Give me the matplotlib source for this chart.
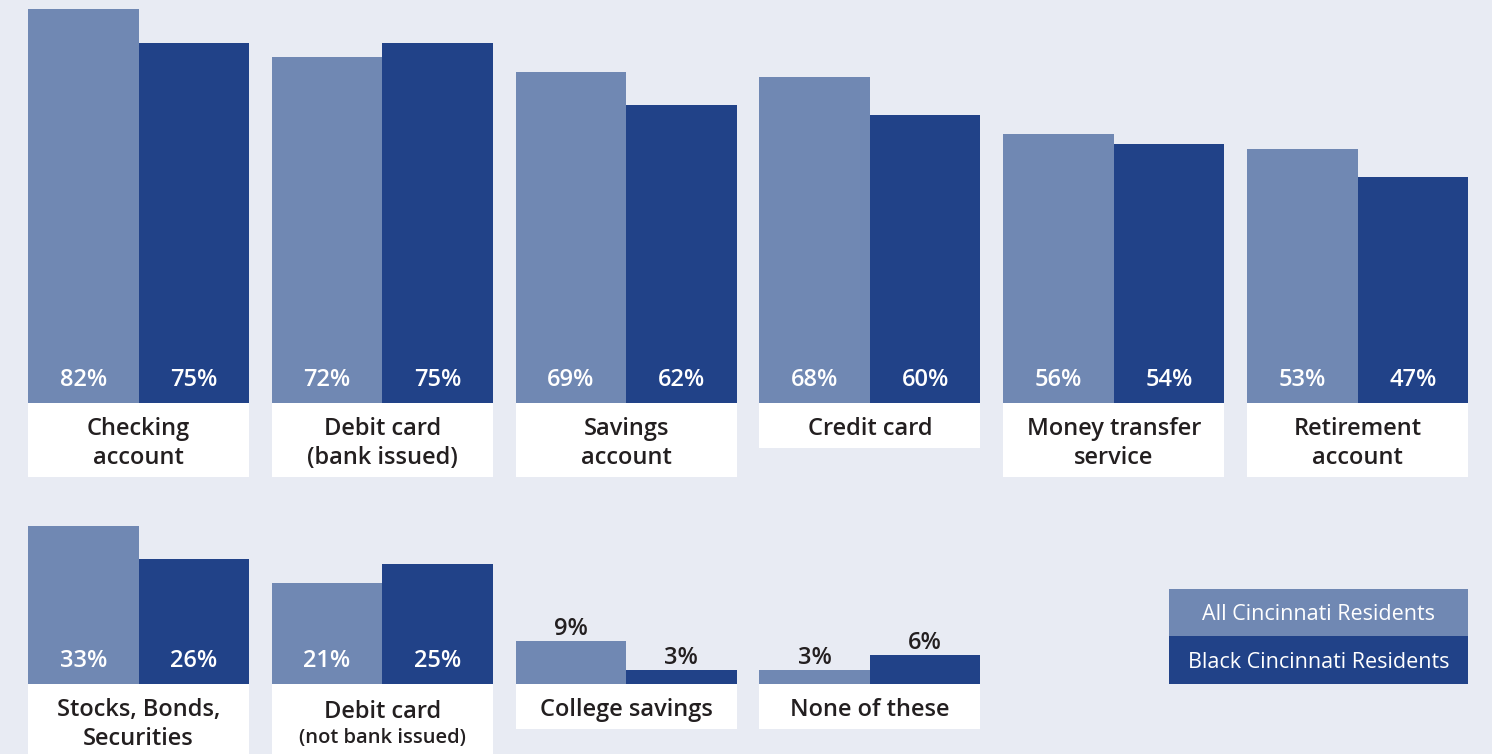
import matplotlib
matplotlib.use("Agg")
import matplotlib.pyplot as plt
from matplotlib.patches import Rectangle

# ---- data ----
top_categories = ["Checking\naccount", "Debit card\n(bank issued)", "Savings\naccount",
                  "Credit card", "Money transfer\nservice", "Retirement\naccount"]
top_all = [82, 72, 69, 68, 56, 53]
top_black = [75, 75, 62, 60, 54, 47]

bottom_categories = ["Stocks, Bonds,\nSecurities", "Debit card", "College savings", "None of these"]
bottom_sublabels = ["", "(not bank issued)", "", ""]
bottom_all = [33, 21, 9, 3]
bottom_black = [26, 25, 3, 6]

series_names = ["All Cincinnati Residents", "Black Cincinnati Residents"]

# ---- style ----
BG = "#e8ebf3"
LIGHT = "#7088b3"
DARK = "#214288"
TXT = "#231f20"
FONT = "Open Sans"
FS = 17
W, H = 1492, 754
PX = 4.8          # pixels per percentage point
STEP = 243.8      # pixel distance between groups
C0 = 138.5        # pixel x of first group centre
BW = 110.5 / STEP # bar width in group units

fig = plt.figure(figsize=(W / 100, H / 100), dpi=100, facecolor=BG)


def make_axes(px_top, px_bottom, px_base):
    ax = fig.add_axes([0, 1 - px_bottom / H, 1, (px_bottom - px_top) / H])
    ax.set_facecolor(BG)
    ax.set_xlim(-C0 / STEP, (W - C0) / STEP)
    ax.set_ylim(-(px_bottom - px_base) / PX, (px_base - px_top) / PX)
    ax.axis("off")
    return ax


def label(ax, x, y, s, size=FS, color=TXT):
    ax.text(x, y, s, ha="center", va="center_baseline", fontsize=size, color=color,
            family=FONT, fontweight="semibold")


def draw_row(ax, cats, v_all, v_black, subs=None):
    n = len(cats)
    xs = list(range(n))
    ax.bar([x - BW / 2 for x in xs], v_all, width=BW, color=LIGHT, linewidth=0)
    ax.bar([x + BW / 2 for x in xs], v_black, width=BW, color=DARK, linewidth=0)
    for i, cat in enumerate(cats):
        parts = cat.split("\n")
        has_sub = bool(subs and subs[i])
        lines = len(parts) + (1 if has_sub else 0)
        box_h = (74 if lines > 1 else 45) / PX
        ax.add_patch(Rectangle((i - BW, -box_h), 2 * BW, box_h, facecolor="white",
                               edgecolor="none", zorder=1))
        if has_sub:
            label(ax, i, -25 / PX, parts[0])
            label(ax, i, -52 / PX, subs[i], size=14.5)
        elif len(parts) == 1:
            label(ax, i, -23 / PX, parts[0])
        else:
            label(ax, i, -23 / PX, parts[0])
            label(ax, i, -52 / PX, parts[1])
        for off, v in ((-BW / 2, v_all[i]), (BW / 2, v_black[i])):
            if v >= 15:
                label(ax, i + off, 26 / PX, f"{v}%", color="white")
            else:
                label(ax, i + off, v + 15 / PX, f"{v}%")


ax_top = make_axes(0, 490, 403)
draw_row(ax_top, top_categories, top_all, top_black)

ax_bot = make_axes(490, 754, 684)
draw_row(ax_bot, bottom_categories, bottom_all, bottom_black, bottom_sublabels)

# ---- legend ----
lx0, lx1 = 1169, 1468
for (y0, y1), col, name in (((589, 636), LIGHT, series_names[0]),
                            ((636, 684), DARK, series_names[1])):
    fig.patches.append(Rectangle((lx0 / W, 1 - y1 / H), (lx1 - lx0) / W, (y1 - y0) / H,
                                 transform=fig.transFigure, facecolor=col,
                                 edgecolor="none"))
    fig.text((lx0 + lx1) / 2 / W, 1 - (y0 + y1) / 2 / H, name, ha="center",
             va="center_baseline", fontsize=15.5, color="white", family=FONT)

fig.savefig("out.png", dpi=100, facecolor=BG)
